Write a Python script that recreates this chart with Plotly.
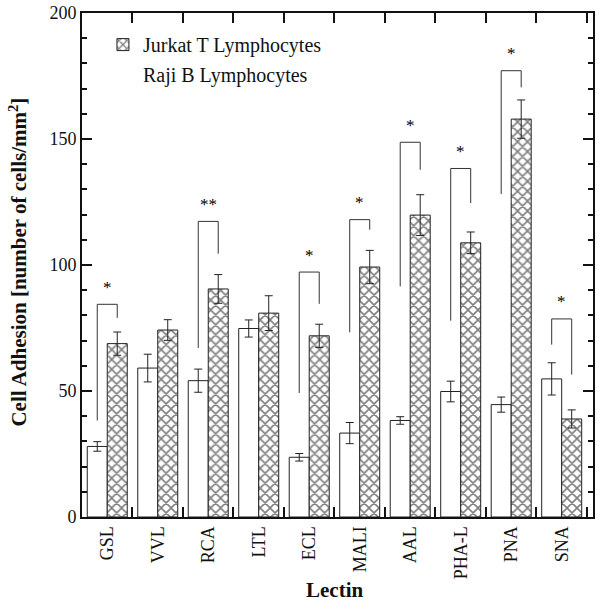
import plotly.graph_objects as go

lectins = ["GSL", "VVL", "RCA", "LTL", "ECL", "MALI", "AAL", "PHA-L", "PNA", "SNA"]

raji = [28.0, 59.1, 54.1, 74.8, 23.7, 33.3, 38.3, 49.8, 44.6, 54.8]
raji_err = [1.9, 5.5, 4.6, 3.4, 1.5, 4.2, 1.5, 4.1, 3.0, 6.4]

jurkat = [68.8, 74.2, 90.5, 80.9, 71.9, 99.2, 119.8, 108.8, 157.9, 38.9]
jurkat_err = [4.6, 4.1, 5.7, 6.9, 4.6, 6.6, 8.1, 4.3, 7.6, 3.6]

# significance brackets: lectin index, left foot, top, right foot, label
sig_idx = [0, 2, 4, 5, 6, 7, 8, 9]
sig_left = [38.3, 67.1, 49.2, 73.3, 91.5, 77.9, 128.2, 68.4]
sig_top = [84.4, 117.3, 97.2, 118.0, 148.7, 138.3, 177.1, 78.6]
sig_right = [79.0, 104.5, 84.6, 114.0, 137.8, 124.6, 170.5, 56.5]
sig_text = ["*", "**", "*", "*", "*", "*", "*", "*"]

FONT = "Liberation Serif"
bw = 0.396
xs = list(range(len(lectins)))

fig = go.Figure()

fig.add_trace(go.Bar(
    x=xs, y=raji, name="Raji B Lymphocytes", showlegend=False,
    width=bw, offset=-bw,
    marker=dict(color="white", line=dict(color="#222", width=1)),
    error_y=dict(type="data", array=raji_err, color="#222", thickness=1, width=4),
))
fig.add_trace(go.Bar(
    x=xs, y=jurkat, name="Jurkat T Lymphocytes", legendgroup="j",
    width=bw, offset=0,
    marker=dict(color="white", line=dict(color="#222", width=1),
                pattern=dict(shape="x", size=7, solidity=0.4,
                             fgcolor="black", bgcolor="white")),
    error_y=dict(type="data", array=jurkat_err, color="#222", thickness=1, width=4),
))
# legend entry for white bars (no visible symbol in the original)
fig.add_trace(go.Scatter(
    x=[None], y=[None], mode="markers", name="Raji B Lymphocytes", legendgroup="r",
    marker=dict(color="white", size=1),
))

for k, i in enumerate(sig_idx):
    xl = i - bw / 2
    xr = i + bw / 2
    fig.add_trace(go.Scatter(
        x=[xl, xl, xr, xr], y=[sig_left[k], sig_top[k], sig_top[k], sig_right[k]],
        mode="lines", line=dict(color="#333", width=1), showlegend=False,
        hoverinfo="skip",
    ))
    fig.add_annotation(x=i, y=sig_top[k], text=sig_text[k], showarrow=False,
                       yshift=17, font=dict(family=FONT, size=17, color="black"))

# axis titles as annotations for exact placement
fig.add_annotation(xref="paper", yref="paper", x=-0.125, y=0.505, textangle=-90,
                   text="<b>Cell Adhesion [number of cells/mm<sup>2</sup>]</b>",
                   showarrow=False, xanchor="center", yanchor="middle",
                   font=dict(family=FONT, size=21, color="#111"))
fig.add_annotation(xref="paper", yref="paper", x=0.495, y=-0.145,
                   text="<b>Lectin</b>", showarrow=False,
                   xanchor="center", yanchor="middle",
                   font=dict(family=FONT, size=21, color="#111"))

fig.update_layout(
    width=602, height=610,
    margin=dict(l=82, r=9, t=13, b=93),
    paper_bgcolor="white", plot_bgcolor="white",
    barmode="overlay",
    font=dict(family=FONT, size=18, color="#111"),
    legend=dict(x=0.041, y=0.976, xanchor="left", yanchor="top",
                traceorder="grouped", tracegroupgap=1,
                bgcolor="rgba(0,0,0,0)", font=dict(family=FONT, size=20, color="#111")),
    xaxis=dict(
        range=[-0.5, 9.62], tickvals=xs, ticktext=lectins, tickangle=-90,
        ticks="inside", ticklen=0, showline=True, linecolor="#111", linewidth=2,
        mirror="ticks", showgrid=False, zeroline=False, automargin=False,
        minor=dict(tick0=0.5, dtick=1, ticks="inside", ticklen=10,
                   tickcolor="#111", tickwidth=2, showgrid=False),
        tickfont=dict(family=FONT, size=18),
    ),
    yaxis=dict(
        range=[0, 200], tickvals=[0, 50, 100, 150, 200],
        ticks="inside", ticklen=10, tickwidth=2, tickcolor="#111",
        showline=True, linecolor="#111", linewidth=2, mirror="ticks",
        showgrid=False, zeroline=False, automargin=False,
        ticklabeloverflow="allow",
        minor=dict(dtick=10, ticks="inside", ticklen=5, tickwidth=2,
                   tickcolor="#111", showgrid=False),
        tickfont=dict(family=FONT, size=18),
    ),
)

# drop the default page margin so the 602x610 figure fills the window
fig.write_html("out.html", config={"displayModeBar": False},
               post_script="document.body.style.margin='0px';")
